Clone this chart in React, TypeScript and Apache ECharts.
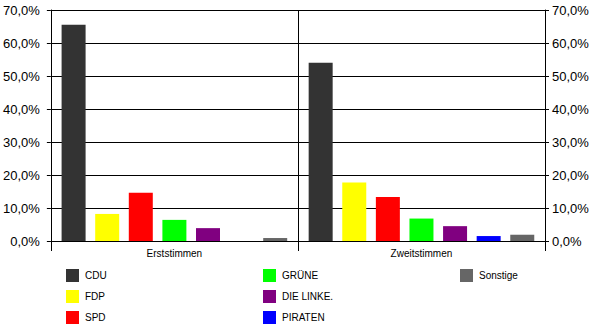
import React, { useEffect, useRef } from "react";
import * as echarts from "echarts";

const categories = ["Erststimmen", "Zweitstimmen"];
const parties = ["CDU", "FDP", "SPD", "GRÜNE", "DIE LINKE.", "PIRATEN", "Sonstige"];
const colors = ["#333333", "#ffff00", "#ff0000", "#00ff00", "#800080", "#0000ff", "#666666"];
const cdu = [65.5, 54.0];
const fdp = [8.2, 17.7];
const spd = [14.6, 13.3];
const gruene = [6.4, 6.8];
const linke = [3.9, 4.5];
const piraten: (number | null)[] = [null, 1.5];
const sonstige = [0.9, 1.9];
const values = [cdu, fdp, spd, gruene, linke, piraten, sonstige];
const legendColumns = [
  ["CDU", "FDP", "SPD"],
  ["GRÜNE", "DIE LINKE.", "PIRATEN"],
  ["Sonstige"],
];

const FONT = "Liberation Sans, Arial, sans-serif";
const fmt = (v: number) => v.toFixed(1).replace(".", ",") + "%";

export default function App() {
  const ref = useRef<HTMLDivElement>(null);
  useEffect(() => {
    if (!ref.current) return;
    const chart = echarts.init(ref.current, undefined, { renderer: "svg" });
    const yBase = {
      type: "value" as const,
      min: 0,
      max: 70,
      interval: 10,
      axisLine: { show: true, lineStyle: { color: "#000", width: 1 } },
      axisTick: { show: true, length: 4, lineStyle: { color: "#000" } },
    };
    chart.setOption({
      animation: false,
      backgroundColor: "#ffffff",
      textStyle: { fontFamily: FONT },
      grid: { left: 50, right: 55, top: 10, bottom: 92 },
      xAxis: {
        type: "category",
        data: categories,
        axisLine: { show: true, lineStyle: { color: "#000", width: 1 } },
        axisTick: { show: true, length: 10, interval: 0, lineStyle: { color: "#000" } },
        splitLine: { show: true, interval: 0, lineStyle: { color: "#000", width: 1 } },
        axisLabel: { color: "#000", fontSize: 10, fontFamily: FONT, margin: 7 },
      },
      yAxis: [
        {
          ...yBase,
          position: "left",
          splitLine: { show: true, lineStyle: { color: "#000", width: 1 } },
          axisLabel: { color: "#000", fontSize: 13, fontFamily: FONT, margin: 11, formatter: fmt },
        },
        {
          ...yBase,
          position: "right",
          splitLine: { show: false },
          axisLabel: { color: "#000", fontSize: 13, fontFamily: FONT, margin: 7, formatter: fmt },
        },
      ],
      legend: legendColumns.map((col, i) => ({
        data: col,
        orient: "vertical",
        left: [66, 263, 460][i],
        top: 269,
        padding: 0,
        itemWidth: 13,
        itemHeight: 13,
        itemGap: 8,
        icon: "rect",
        textStyle: { color: "#000", fontSize: 10, fontFamily: FONT, padding: [0, 0, 0, 1] },
        selectedMode: false,
      })),
      series: parties.map((p, i) => ({
        name: p,
        type: "bar",
        data: values[i],
        barWidth: 24,
        barGap: "40%",
        itemStyle: { color: colors[i] },
      })),
    });
    return () => chart.dispose();
  }, []);
  return (
    <div
      ref={ref}
      style={{ position: "fixed", left: 0, top: 0, width: 600, height: 333 }}
    />
  );
}
